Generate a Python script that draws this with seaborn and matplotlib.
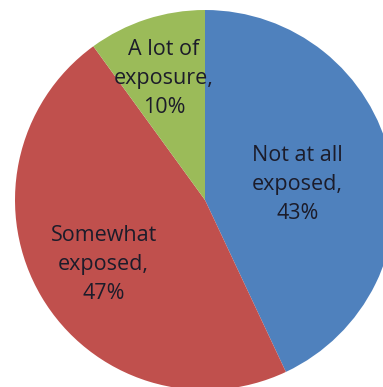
import numpy as np
import matplotlib
matplotlib.use("Agg")
import matplotlib.pyplot as plt
import seaborn as sns

categories = ["Not at all\nexposed,", "Somewhat\nexposed,", "A lot of\nexposure,"]
values = [43, 47, 10]
colors = ["#4F81BD", "#C0504D", "#9BBB59"]
label_dist = [0.50, 0.62, 0.70]

sns.set_theme(style="white")
plt.rcParams['font.family'] = ['Open Sans', 'DejaVu Sans']

fig = plt.figure(figsize=(3.83, 3.87), dpi=100)
ax = fig.add_axes([0, 0, 1, 1])
palette = sns.color_palette(colors)
wedges, texts = ax.pie(values, colors=palette, startangle=90, counterclock=False,
                       radius=1.0, center=(0, 0),
                       labels=[f"{c}\n{v}%" for c, v in zip(categories, values)],
                       labeldistance=0.6,
                       wedgeprops=dict(linewidth=0, edgecolor="none"),
                       textprops=dict(fontsize=15.5, color="#1c1c2a", ha="center",
                                      va="center", linespacing=1.5))
for w, t, d in zip(wedges, texts, label_dist):
    ang = np.deg2rad((w.theta1 + w.theta2) / 2)
    t.set_position((d * np.cos(ang), d * np.sin(ang) - 0.025))
    t.set_ha("center")
    t.set_va("center")

r_px = 190.0
cx, cy = 205.0, 200.0
ax.set_xlim(-cx / r_px, (383 - cx) / r_px)
ax.set_ylim(-(387 - cy) / r_px, cy / r_px)
ax.set_aspect("auto")
ax.axis("off")
fig.savefig("out.png", dpi=100)
